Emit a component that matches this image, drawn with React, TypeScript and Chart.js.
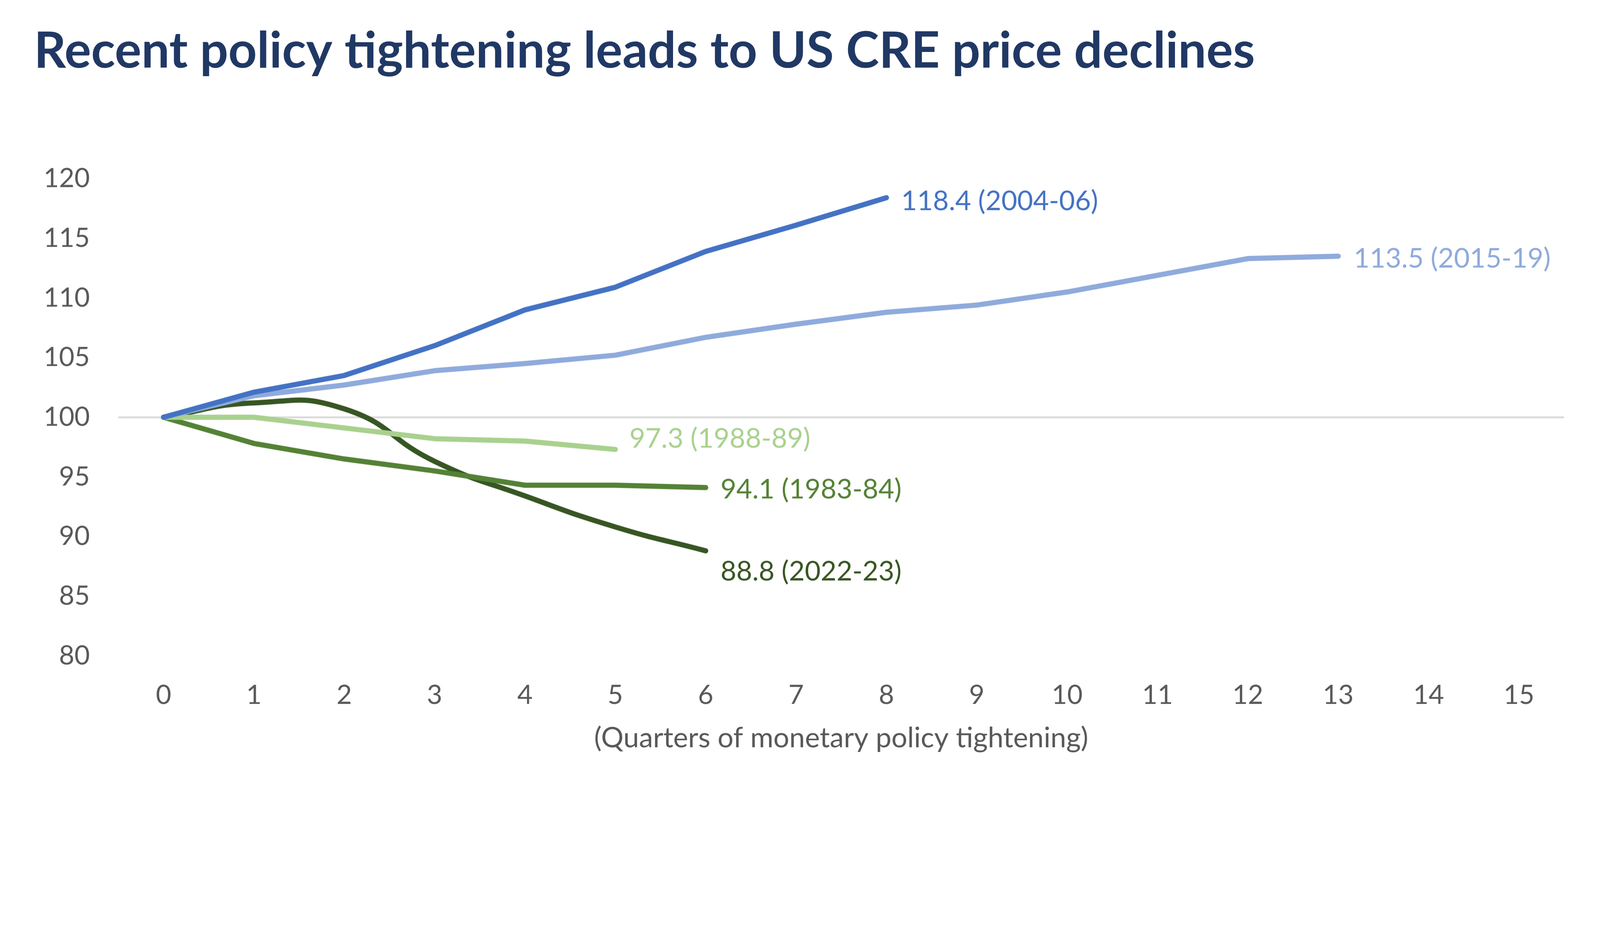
import { useEffect, useRef } from "react";
import { Chart, registerables, type Plugin } from "chart.js";

Chart.register(...registerables);

const TITLE = "Recent policy tightening leads to US CRE price declines";
const X_TITLE = "(Quarters of monetary policy tightening)";
const QUARTERS = ["0", "1", "2", "3", "4", "5", "6", "7", "8", "9", "10", "11", "12", "13", "14", "15"];

// Index = 100 at start of tightening, one value per quarter
const CYCLE_2004_06 = [100, 102.1, 103.5, 106.0, 109.0, 110.9, 113.9, 116.1, 118.4];
const CYCLE_2015_19 = [100, 101.8, 102.7, 103.9, 104.5, 105.2, 106.7, 107.8, 108.8, 109.4, 110.5, 111.9, 113.3, 113.5];
const CYCLE_1988_89 = [100, 100.0, 99.1, 98.2, 98.0, 97.3];
const CYCLE_1983_84 = [100, 97.8, 96.5, 95.5, 94.3, 94.3, 94.1];
const CYCLE_2022_23 = [100, 101.2, 100.7, 96.3, 93.4, 90.8, 88.8];

const SERIES = [
  { name: "2004-06", data: CYCLE_2004_06, color: "#4472C4", tension: 0, dx: 40, dy: 10 },
  { name: "2015-19", data: CYCLE_2015_19, color: "#8FAADC", tension: 0, dx: 42, dy: 7 },
  { name: "1988-89", data: CYCLE_1988_89, color: "#A9D18E", tension: 0, dx: 38, dy: -29 },
  { name: "1983-84", data: CYCLE_1983_84, color: "#548235", tension: 0, dx: 40, dy: 5 },
  { name: "2022-23", data: CYCLE_2022_23, color: "#375623", tension: 0.5, dx: 40, dy: 56 },
];

const FONT = "Lato, 'Open Sans', sans-serif";
const REF_W = 4326;
const REF_H = 2410;

export default function App() {
  const canvasRef = useRef<HTMLCanvasElement>(null);
  // the layout below is measured on a 4326px-wide page; scale to the real viewport
  const k = (typeof window !== "undefined" ? window.innerWidth : REF_W) / REF_W;
  const px = (v: number) => v * k;

  useEffect(() => {
    const ctx = canvasRef.current?.getContext("2d");
    if (!ctx) return;

    // Title and end-of-line labels
    const annotate: Plugin<"line"> = {
      id: "annotate",
      afterDraw(chart) {
        const c = chart.ctx;
        c.save();
        c.fillStyle = "#203864";
        c.font = `bold ${px(135)}px ${FONT}`;
        c.textBaseline = "alphabetic";
        c.textAlign = "left";
        c.fillText(TITLE, px(92), px(183));

        c.font = `${px(74)}px ${FONT}`;
        c.textBaseline = "middle";
        SERIES.forEach((s, i) => {
          const pts = chart.getDatasetMeta(i).data;
          const last = pts[pts.length - 1];
          if (!last) return;
          c.fillStyle = s.color;
          const v = s.data[s.data.length - 1];
          c.fillText(`${v.toFixed(1)} (${s.name})`, last.x + px(s.dx), last.y + px(s.dy));
        });
        c.restore();
      },
    };

    const chart = new Chart(ctx, {
      type: "line",
      data: {
        labels: QUARTERS,
        datasets: SERIES.map((s) => ({
          label: s.name,
          data: s.data,
          borderColor: s.color,
          backgroundColor: s.color,
          borderWidth: px(14),
          borderCapStyle: "round" as const,
          borderJoinStyle: "round" as const,
          pointRadius: 0,
          tension: s.tension,
          fill: false,
        })),
      },
      options: {
        responsive: true,
        maintainAspectRatio: false,
        animation: false,
        layout: { padding: { top: px(483), right: px(97), bottom: 0, left: 0 } },
        scales: {
          x: {
            type: "category",
            offset: true,
            grid: { display: false, drawTicks: false },
            border: { display: false },
            ticks: {
              color: "#595959",
              font: { family: FONT, size: px(72) },
              padding: px(64),
              maxRotation: 0,
              autoSkip: false,
            },
            title: {
              display: true,
              text: X_TITLE,
              color: "#595959",
              font: { family: FONT, size: px(76) },
              padding: { top: 0, bottom: px(368) },
            },
            afterFit: (scale) => { scale.height = px(637); },
          },
          y: {
            min: 80,
            max: 120,
            grid: {
              drawTicks: false,
              lineWidth: px(5),
              color: (c) => (c.tick.value === 100 ? "#D9D9D9" : "rgba(0,0,0,0)"),
            },
            border: { display: false },
            ticks: {
              stepSize: 5,
              color: "#595959",
              font: { family: FONT, size: px(72) },
              padding: px(77),
            },
            afterFit: (scale) => { scale.width = px(320); },
          },
        },
        plugins: {
          legend: { display: false },
          tooltip: { enabled: false },
        },
      },
      plugins: [annotate],
    });

    return () => chart.destroy();
  }, []);

  return (
    <div style={{ position: "absolute", left: 0, top: 0, width: px(REF_W), height: px(REF_H), background: "#fff" }}>
      <canvas ref={canvasRef} />
    </div>
  );
}
